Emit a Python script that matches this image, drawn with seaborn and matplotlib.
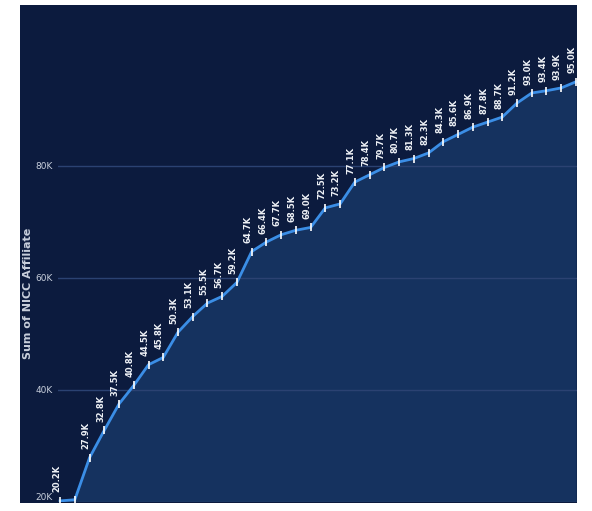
import seaborn as sns
import matplotlib.pyplot as plt
import pandas as pd

# Cumulative values (in thousands)
steps = list(range(36))
values = [20.2, 20.4, 27.9, 32.8, 37.5, 40.8, 44.5, 45.8, 50.3, 53.1,
          55.5, 56.7, 59.2, 64.7, 66.4, 67.7, 68.5, 69.0, 72.5, 73.2,
          77.1, 78.4, 79.7, 80.7, 81.3, 82.3, 84.3, 85.6, 86.9, 87.8,
          88.7, 91.2, 93.0, 93.4, 93.9, 95.0]
y_ticks = [20, 40, 60, 80]
y_tick_labels = ['20K', '40K', '60K', '80K']

df = pd.DataFrame({'step': steps, 'value': values})

W, H = 592, 511
fig = plt.figure(figsize=(W / 100, H / 100), dpi=100, facecolor='white')

# dark panel behind the chart
bg = fig.add_axes([20 / W, 8 / H, 557 / W, 498 / H], zorder=-1)
bg.set_facecolor('#0c1b3e')
bg.set_xticks([])
bg.set_yticks([])
for s in bg.spines.values():
    s.set_visible(False)

ax = fig.add_axes([58 / W, 9 / H, 519 / W, 497 / H])
ax.set_facecolor('none')

# filled area under the line
ax.fill_between(df['step'], df['value'], 0, color='#15325f', zorder=1)

# gridlines drawn over the fill
for t in y_ticks:
    ax.axhline(t, color='#2b4272', linewidth=1, zorder=2)

sns.lineplot(data=df, x='step', y='value', ax=ax, color='#3b8ee6',
             linewidth=2, marker='|', markersize=6, markeredgewidth=1.2, zorder=3)

# data labels
for i, v in zip(steps, values):
    if i == 1:
        continue
    ax.text(i - 0.25, v + 1.5, f'{v:.1f}K', color='#eef1f6', fontsize=6,
            fontweight='bold', rotation=90, ha='center', va='bottom', zorder=4)

ax.set_xlim(-0.14, 35.07)
ax.set_ylim(20, 108.7)
ax.set_yticks(y_ticks)
ax.set_yticklabels(y_tick_labels, color='#c8cfdc', fontsize=6.5)
ax.get_yticklabels()[0].set_va('bottom')
ax.set_xticks([])
ax.tick_params(axis='y', length=0, pad=4)
for s in ax.spines.values():
    s.set_visible(False)

ax.set_xlabel('')
ax.set_ylabel('Sum of NICC Affiliate', color='#c8cfdc', fontsize=8, fontweight='bold')
ax.yaxis.set_label_coords(-0.049, 0.42)

plt.savefig('out.png', dpi=100, facecolor='white')
